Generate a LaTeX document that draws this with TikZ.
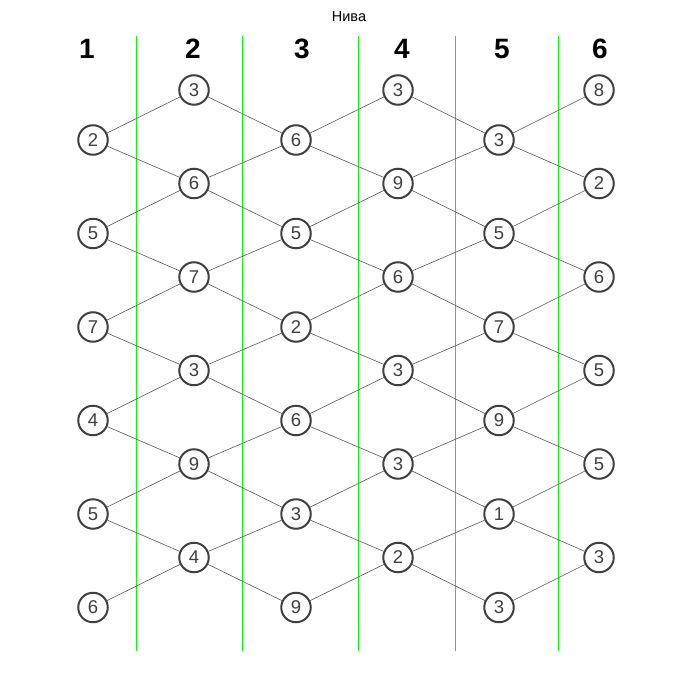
\documentclass[tikz,border=0pt]{standalone}
\usepackage{fontspec}
\setmainfont{Liberation Sans}
\usepackage{tikz}
\newcommand{\valcol}[9]{
\node[val] (n#11) at (#2,#3) {#4};
\node[val] (n#12) at (#2,#3+93.5) {#5};
\node[val] (n#13) at (#2,#3+187) {#6};
\node[val] (n#14) at (#2,#3+280.5) {#7};
\node[val] (n#15) at (#2,#3+374) {#8};
\node[val] (n#16) at (#2,#3+467.5) {#9};
}

\begin{document}
\begin{tikzpicture}[x=1pt,y=-1pt,
  val/.style={circle,draw=black!75,line width=2pt,fill=white,minimum size=29.5pt,
    inner sep=0pt,text=black!75,font=\fontsize{18.5}{18.5}\selectfont},
  link/.style={black!65,line width=0.6pt},
  colhead/.style={font=\fontsize{28}{28}\selectfont\bfseries},
  sep/.style={green,line width=1pt}]
\useasboundingbox (0,0) rectangle (700,700);
\node[font=\fontsize{14.5}{14.5}\selectfont] (title) at (349,17) {Нива};

\node[colhead] (h1) at (87,49) {1};
\node[colhead] (h2) at (193,49) {2};
\node[colhead] (h3) at (302,49) {3};
\node[colhead] (h4) at (402,49) {4};
\node[colhead] (h5) at (502,49) {5};
\node[colhead] (h6) at (600,49) {6};

\foreach \x in {136,242,358,455,558}
  \draw[sep] (\x,36) -- (\x,651);

\valcol{1}{93}{140}{2}{5}{7}{4}{5}{6}
\valcol{2}{194}{90}{3}{6}{7}{3}{9}{4}
\valcol{3}{296}{140}{6}{5}{2}{6}{3}{9}
\valcol{4}{398}{90}{3}{9}{6}{3}{3}{2}
\valcol{5}{499}{140}{3}{5}{7}{9}{1}{3}
\valcol{6}{599}{90}{8}{2}{6}{5}{5}{3}

% links between neighbouring columns
\foreach \c/\d in {1/2,3/4,5/6}{
  \foreach \k in {1,...,6}
    \draw[link] (n\c\k) -- (n\d\k);
  \foreach \k [evaluate=\k as \j using int(\k+1)] in {1,...,5}
    \draw[link] (n\c\k) -- (n\d\j);
}
\foreach \c/\d in {2/3,4/5}{
  \foreach \k in {1,...,6}
    \draw[link] (n\c\k) -- (n\d\k);
  \foreach \k [evaluate=\k as \j using int(\k+1)] in {1,...,5}
    \draw[link] (n\c\j) -- (n\d\k);
}
\end{tikzpicture}
\end{document}
